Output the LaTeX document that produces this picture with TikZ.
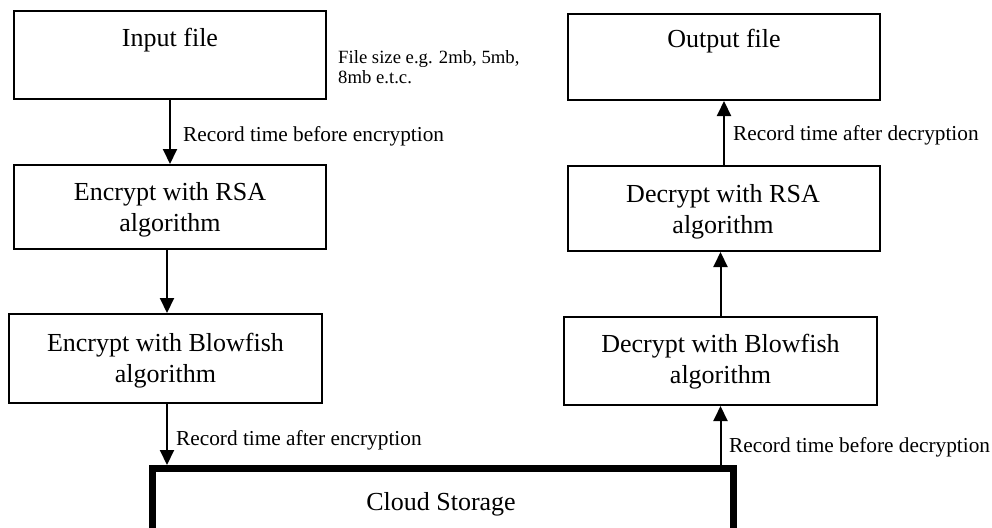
\documentclass[tikz,border=0pt]{standalone}
\usepackage{fontspec}
\setmainfont{Liberation Serif}
\usetikzlibrary{arrows.meta}
\tikzset{
  box/.style={draw=black, line width=2pt, rectangle, inner sep=0pt, fill=white},
  bigbox/.style={draw=black, line width=7pt, rectangle, inner sep=0pt},
  maintext/.style={inner sep=0pt, align=center, font=\fontsize{26}{31}\selectfont},
  lbltext/.style={inner sep=0pt, anchor=base west, font=\fontsize{21.3}{24}\selectfont},
  notetext/.style={inner sep=0pt, anchor=north west, align=left, font=\fontsize{18.7}{20}\selectfont},
  arr/.style={line width=2pt, -{Triangle[width=14pt,length=15pt]}}
}
\begin{document}
\begin{tikzpicture}[x=1pt,y=-1pt]
\useasboundingbox (0,0) rectangle (992,527);
\clip (0,0) rectangle (992,527);
% boxes
\node[box, minimum width=312pt, minimum height=88pt] (in) at (170,55) {};
\node[box, minimum width=312pt, minimum height=84pt] (ersa) at (170,207) {};
\node[box, minimum width=313pt, minimum height=89pt] (ebf) at (165.5,358.5) {};
\node[bigbox, minimum width=581pt, minimum height=80pt] (cloud) at (443,508.5) {};
\node[box, minimum width=312pt, minimum height=86pt] (out) at (724,57) {};
\node[box, minimum width=312pt, minimum height=85pt] (drsa) at (724,208.5) {};
\node[box, minimum width=313pt, minimum height=88pt] (dbf) at (720.5,361) {};
% box texts
\node[maintext, anchor=base] (inT) at (170,46) {Input file};
\node[maintext, anchor=base] (outT) at (724,48) {Output file};
\node[maintext] (ersaT) at (170,209.3) {\strut Encrypt with RSA\\\strut algorithm};
\node[maintext] (drsaT) at (723,211.3) {\strut Decrypt with RSA\\\strut algorithm};
\node[maintext] (ebfT) at (165.5,360.3) {\strut Encrypt with Blowfish\\\strut algorithm};
\node[maintext] (dbfT) at (720.5,361.3) {\strut Decrypt with Blowfish\\\strut algorithm};
\node[maintext, anchor=base] (cloudT) at (441,510) {Cloud Storage};
% note
\node[notetext] (note) at (338,49) {\strut File size e.g. 2mb, 5mb,\\\strut 8mb e.t.c.};
% connectors
\draw[arr] (in.south) -- (ersa.north);
\draw[arr] ([xshift=-3pt]ersa.south) -- ([xshift=-3pt]ersa.south |- ebf.north);
\draw[arr] ([xshift=1.5pt]ebf.south) -- ([xshift=1.5pt]ebf.south |- cloud.north);
\draw[arr] (cloud.north -| dbf.south) -- (dbf.south);
\draw[arr] (dbf.north) -- (dbf.north |- drsa.south);
\draw[arr] (drsa.north) -- (drsa.north |- out.south);
% connector labels
\node[lbltext] (l1) at (183,141) {Record time before encryption};
\node[lbltext] (l2) at (733,140) {Record time after decryption};
\node[lbltext] (l3) at (176,445) {Record time after encryption};
\node[lbltext] (l4) at (729,452) {Record time before decryption};
\end{tikzpicture}
\end{document}
